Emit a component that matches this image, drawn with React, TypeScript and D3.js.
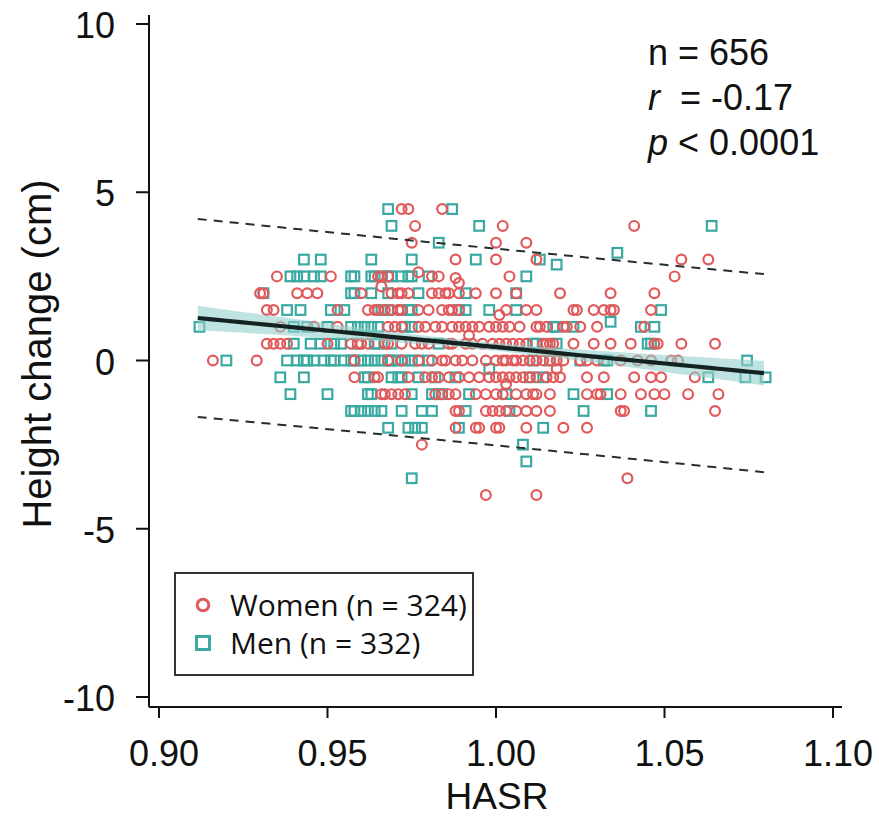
import React from "react";
import * as d3 from "d3";

// ---------- data ----------
const ROW_HEIGHTS = [4.5, 4, 3.5, 3, 2.5, 2, 1.5, 1, 0.5, 0, -0.5, -1, -1.5, -2, -2.5, -3, -3.5, -4];

const WOMEN_HASR_BY_ROW: number[][] = [
  [0.972, 0.974, 0.984],
  [0.976, 1.002, 1.041],
  [0.975, 1.0, 1.009],
  [0.988, 1.0, 1.012, 1.055, 1.063],
  [0.935, 0.951, 0.965, 0.966, 0.968, 0.981, 0.983, 1.004, 1.053],
  [0.93, 0.931, 0.941, 0.944, 0.947, 0.96, 0.969, 0.971, 0.972, 0.974, 0.981, 0.983, 0.985, 0.986, 0.989, 0.994, 1.0, 1.006, 1.019, 1.034, 1.047],
  [0.932, 0.934, 0.953, 0.962, 0.964, 0.965, 0.967, 0.969, 0.971, 0.972, 0.977, 0.98, 0.984, 0.986, 0.987, 0.989, 1.003, 1.009, 1.012, 1.023, 1.024, 1.029, 1.032, 1.034, 1.035, 1.046],
  [0.936, 0.946, 0.953, 0.968, 0.97, 0.972, 0.977, 0.979, 0.982, 0.984, 0.987, 0.989, 0.991, 0.993, 0.995, 0.998, 1.0, 1.002, 1.004, 1.007, 1.012, 1.013, 1.015, 1.02, 1.021, 1.025, 1.03, 1.044],
  [0.932, 0.934, 0.936, 0.938, 0.95, 0.957, 0.959, 0.96, 0.962, 0.967, 0.968, 0.972, 0.976, 0.978, 0.98, 0.986, 0.987, 0.991, 0.993, 0.996, 0.999, 1.001, 1.003, 1.005, 1.007, 1.009, 1.014, 1.015, 1.016, 1.017, 1.023, 1.029, 1.034, 1.04, 1.047, 1.048, 1.055, 1.065],
  [0.916, 0.929, 0.958, 0.968, 0.972, 0.977, 0.981, 0.984, 0.985, 0.988, 0.99, 0.993, 0.997, 1.0, 1.002, 1.003, 1.005, 1.006, 1.008, 1.01, 1.012, 1.014, 1.016, 1.018, 1.02, 1.025, 1.027, 1.03, 1.037, 1.042, 1.046, 1.052, 1.054],
  [0.958, 0.964, 0.965, 0.974, 0.979, 0.981, 0.983, 0.986, 0.989, 0.992, 0.995, 0.998, 1.0, 1.002, 1.004, 1.006, 1.008, 1.01, 1.012, 1.015, 1.017, 1.019, 1.027, 1.032, 1.041, 1.046, 1.049, 1.059],
  [0.966, 0.967, 0.969, 0.971, 0.973, 0.982, 0.984, 0.986, 0.988, 0.994, 0.997, 1.0, 1.002, 1.006, 1.009, 1.011, 1.012, 1.016, 1.027, 1.03, 1.031, 1.037, 1.043, 1.047, 1.05, 1.057, 1.066],
  [0.988, 0.989, 0.997, 0.999, 1.001, 1.003, 1.006, 1.009, 1.012, 1.016, 1.037, 1.038, 1.065],
  [0.988, 0.994, 0.995, 1.0, 1.001, 1.009, 1.02, 1.027],
  [0.978],
  [],
  [1.039],
  [0.997, 1.012],
];

const MEN_HASR_BY_ROW: number[][] = [
  [0.968, 0.987],
  [0.969, 0.995, 1.064],
  [0.983],
  [0.943, 0.948, 0.963, 0.975, 0.994, 1.013],
  [0.939, 0.941, 0.943, 0.946, 0.948, 0.957, 0.958, 0.963, 0.964, 0.966, 0.968, 0.969, 0.972, 0.974, 0.975, 0.98, 1.009],
  [0.931, 0.957, 0.958, 0.963, 0.968, 0.977, 0.991, 1.006],
  [0.938, 0.942, 0.951, 0.955, 0.966, 0.968, 0.972, 0.974, 0.975, 0.989, 0.991, 0.998, 1.006, 1.049],
  [0.912, 0.94, 0.944, 0.95, 0.957, 0.959, 0.961, 0.963, 0.965, 0.973, 0.975, 1.017, 1.018, 1.023, 1.043, 1.047],
  [0.94, 0.945, 0.948, 0.952, 0.954, 0.959, 0.964, 0.965, 0.969, 0.983, 1.011, 1.012, 1.018, 1.045, 1.046],
  [0.92, 0.938, 0.941, 0.943, 0.944, 0.946, 0.949, 0.951, 0.952, 0.955, 0.957, 0.958, 0.96, 0.962, 0.964, 0.966, 0.968, 0.969, 0.971, 0.973, 0.975, 0.977, 0.98, 1.011, 1.016, 1.025, 1.032, 1.033, 1.0745],
  [0.936, 0.943, 0.961, 0.962, 0.969, 0.971, 0.972, 0.977, 0.982, 0.988, 1.01, 1.014, 1.063, 1.074, 1.08],
  [0.939, 0.95, 0.962, 0.963, 0.975, 0.981, 0.983, 0.984, 0.992, 1.003, 1.023, 1.033],
  [0.957, 0.958, 0.96, 0.962, 0.964, 0.966, 0.972, 0.978, 0.981, 0.991, 1.004, 1.026, 1.046],
  [0.968, 0.974, 0.976, 0.978, 0.989, 1.014],
  [1.008],
  [1.009],
  [0.975],
  [],
];

// points off the half-centimetre rows: [HASR, height change]
const WOMEN_EXTRA: [number, number][] = [
  [0.988, 2.45], [0.989, 2.3], [0.966, 2.2], [0.977, 2.62], [1.001, 1.35], [0.992, 0.75], [1.018, -0.25], [1.003, -0.7],
];
const MEN_EXTRA: [number, number][] = [
  [1.018, 2.85], [1.036, 3.2], [1.034, 1.15], [0.998, -0.25],
];

const X_TICKS = [0.9, 0.95, 1.0, 1.05, 1.1];
const Y_TICKS = [10, 5, 0, -5, -10];

// regression summary
const FIT_INTERCEPT = 10.16;
const FIT_SLOPE = -9.76;
const FIT_RESID_SD = 1.49;
const FIT_N = 656;
const FIT_X_MEAN = 0.995;
const FIT_SXX = 0.51;
const FIT_X_RANGE: [number, number] = [0.9115, 1.0795];

const STATS_LINES = [
  { label: "n", text: " = 656", italic: false },
  { label: "r", text: "  = -0.17", italic: true },
  { label: "p", text: " < 0.0001", italic: true },
];
const LEGEND_ITEMS = [
  { key: "women", label: "Women (n = 324)" },
  { key: "men", label: "Men (n = 332)" },
];

// ---------- styling ----------
const W = 879;
const H = 817;
const WOMEN_COLOR = "#e05a5c";
const MEN_COLOR = "#3aa9a2";
const SANS = "'Liberation Sans', Arial, Helvetica, sans-serif";

function toPoints(rows: number[][], extra: [number, number][]) {
  const pts: [number, number][] = [];
  rows.forEach((xs, i) => xs.forEach((x) => pts.push([x, ROW_HEIGHTS[i]])));
  extra.forEach((p) => pts.push(p));
  return pts;
}

export default function App() {
  const x = d3.scaleLinear().domain([0.9, 1.1]).range([159, 833]);
  const y = d3.scaleLinear().domain([-10, 10]).range([697, 24]);

  const women = toPoints(WOMEN_HASR_BY_ROW, WOMEN_EXTRA);
  const men = toPoints(MEN_HASR_BY_ROW, MEN_EXTRA);

  const fit = (v: number) => FIT_INTERCEPT + FIT_SLOPE * v;
  const t = 1.96;
  const ciHalf = (v: number) =>
    t * FIT_RESID_SD * Math.sqrt(1 / FIT_N + (v - FIT_X_MEAN) ** 2 / FIT_SXX);
  const piHalf = (v: number) =>
    t * FIT_RESID_SD * Math.sqrt(1 + 1 / FIT_N + (v - FIT_X_MEAN) ** 2 / FIT_SXX);

  const grid = d3.range(0, 41).map((i) => FIT_X_RANGE[0] + ((FIT_X_RANGE[1] - FIT_X_RANGE[0]) * i) / 40);

  const band = d3
    .area<number>()
    .x((v) => x(v))
    .y0((v) => y(fit(v) - ciHalf(v)))
    .y1((v) => y(fit(v) + ciHalf(v)))(grid);
  const fitLine = d3.line<number>().x((v) => x(v)).y((v) => y(fit(v)))(grid);
  const upper = d3.line<number>().x((v) => x(v)).y((v) => y(fit(v) + piHalf(v)))(grid);
  const lower = d3.line<number>().x((v) => x(v)).y((v) => y(fit(v) - piHalf(v)))(grid);

  const axisX0 = 149;
  const axisY0 = 707;

  return (
    <svg
      width={W}
      height={H}
      viewBox={`0 0 ${W} ${H}`}
      style={{ position: "absolute", left: 0, top: 0, background: "#fff" }}
    >
      <rect x={0} y={0} width={W} height={H} fill="#fff" />

      {/* points */}
      <g fill="none" stroke={MEN_COLOR} strokeWidth={2.2}>
        {men.map(([a, b], i) => (
          <rect key={`m${i}`} x={x(a) - 4.8} y={y(b) - 4.8} width={9.6} height={9.6} />
        ))}
      </g>
      <g fill="none" stroke={WOMEN_COLOR} strokeWidth={2.2}>
        {women.map(([a, b], i) => (
          <circle key={`w${i}`} cx={x(a)} cy={y(b)} r={4.9} />
        ))}
      </g>

      {/* regression */}
      <path d={band ?? ""} fill="#93d1cc" fillOpacity={0.6} />
      <path d={upper ?? ""} fill="none" stroke="#24302f" strokeWidth={2} strokeDasharray="9 7" />
      <path d={lower ?? ""} fill="none" stroke="#24302f" strokeWidth={2} strokeDasharray="9 7" />
      <path d={fitLine ?? ""} fill="none" stroke="#142322" strokeWidth={4.2} />

      {/* axes */}
      <g stroke="#111" strokeWidth={2} fill="none">
        <line x1={axisX0} y1={15} x2={axisX0} y2={axisY0} />
        <line x1={axisX0} y1={axisY0} x2={842} y2={axisY0} />
        {Y_TICKS.map((v) => (
          <line key={`yt${v}`} x1={136} x2={axisX0} y1={y(v)} y2={y(v)} />
        ))}
        {X_TICKS.map((v) => (
          <line key={`xt${v}`} x1={x(v)} x2={x(v)} y1={axisY0} y2={axisY0 + 11} />
        ))}
      </g>
      <g fontFamily={SANS} fontSize={36} fill="#111">
        {Y_TICKS.map((v) => (
          <text key={`yl${v}`} x={115} y={y(v) + 14} textAnchor="end">
            {v}
          </text>
        ))}
        {X_TICKS.map((v) => (
          <text key={`xl${v}`} x={x(v) + 5} y={766} textAnchor="middle">
            {d3.format(".2f")(v)}
          </text>
        ))}
        <text x={497} y={809} textAnchor="middle" fontSize={37}>HASR</text>
        <text transform="translate(51,354) rotate(-90)" textAnchor="middle" fontSize={40}>
          Height change (cm)
        </text>
      </g>

      {/* stats */}
      <g fontFamily={SANS} fontSize={36} fill="#111">
        {STATS_LINES.map((s, i) => (
          <text key={s.label} x={648} y={65 + i * 45} xmlSpace="preserve" style={{ whiteSpace: "pre" }}>
            <tspan fontStyle={s.italic ? "italic" : "normal"}>{s.label}</tspan>
            <tspan>{s.text}</tspan>
          </text>
        ))}
      </g>

      {/* legend */}
      <rect x={175} y={573} width={298} height={102} fill="#fff" stroke="#333" strokeWidth={2} />
      {LEGEND_ITEMS.map((it, i) => {
        const cy = 605 + i * 38;
        return (
          <g key={it.key}>
            {it.key === "women" ? (
              <circle cx={203} cy={cy} r={5.8} fill="none" stroke={WOMEN_COLOR} strokeWidth={3} />
            ) : (
              <rect x={196.5} y={cy - 6.5} width={13} height={13} fill="none" stroke={MEN_COLOR} strokeWidth={3} />
            )}
            <text x={230} y={cy + 11} fontFamily="'Open Sans', 'Noto Sans', sans-serif" fontSize={30} fill="#111">
              {it.label}
            </text>
          </g>
        );
      })}
    </svg>
  );
}
